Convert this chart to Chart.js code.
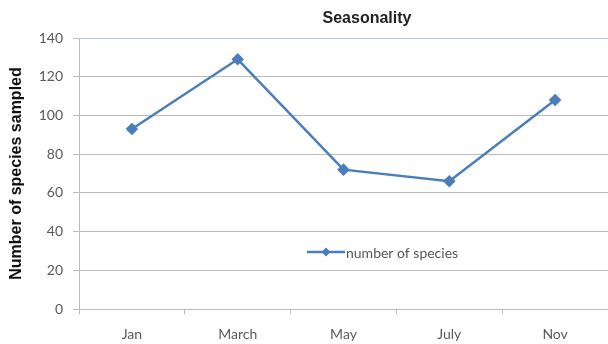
<!DOCTYPE html>
<html lang="en">
<head>
    <meta charset="UTF-8">
    <title>Seasonality</title>
    <script src="https://cdn.jsdelivr.net/npm/chart.js"></script>
    <style>
        body { margin: 0; background: #fff; }
        #wrap { width: 608px; height: 344px; }
    </style>
</head>
<body>
    <div id="wrap"><canvas id="myChart"></canvas></div>

    <script>
    const months = ['Jan', 'March', 'May', 'July', 'Nov'];
    const speciesCount = [93, 129, 72, 66, 108];
    const yTicks = [0, 20, 40, 60, 80, 100, 120, 140];

    const lineBlue = '#4a7ebb';
    const gridGrey = '#bcbcbc';
    const tickFont = { family: 'Lato', size: 14 };

    // title sits off-centre in the original, so draw it by hand
    const titlePlugin = {
        id: 'seasonTitle',
        afterDraw(chart) {
            const ctx = chart.ctx;
            ctx.save();
            ctx.font = 'bold 16px "Liberation Sans", Arial';
            ctx.fillStyle = '#222';
            ctx.textAlign = 'center';
            ctx.textBaseline = 'middle';
            ctx.fillText('Seasonality', 367, 19);
            ctx.restore();
        }
    };

    // legend lives inside the plot area
    const legendPlugin = {
        id: 'innerLegend',
        afterDraw(chart) {
            const ctx = chart.ctx;
            const y = 252;
            ctx.save();
            ctx.strokeStyle = lineBlue;
            ctx.lineWidth = 2.5;
            ctx.beginPath();
            ctx.moveTo(307, y);
            ctx.lineTo(345, y);
            ctx.stroke();
            ctx.fillStyle = lineBlue;
            ctx.beginPath();
            ctx.moveTo(326, y - 4.5);
            ctx.lineTo(330.5, y);
            ctx.lineTo(326, y + 4.5);
            ctx.lineTo(321.5, y);
            ctx.closePath();
            ctx.fill();
            ctx.font = '14px Lato';
            ctx.fillStyle = '#555';
            ctx.textAlign = 'left';
            ctx.textBaseline = 'middle';
            ctx.fillText('number of species', 346, y + 1);
            ctx.restore();
        }
    };

    const ctx = document.getElementById('myChart').getContext('2d');
    const myChart = new Chart(ctx, {
        type: 'line',
        data: {
            labels: months,
            datasets: [{
                label: 'number of species',
                data: speciesCount,
                borderColor: lineBlue,
                backgroundColor: lineBlue,
                borderWidth: 2.5,
                pointStyle: 'rectRot',
                pointRadius: 4.5,
                pointHoverRadius: 4.5,
                tension: 0
            }]
        },
        options: {
            responsive: true,
            maintainAspectRatio: false,
            animation: false,
            layout: { autoPadding: false, padding: { top: 38, left: 0, right: 0, bottom: 0 } },
            plugins: {
                legend: { display: false },
                title: { display: false },
                tooltip: { enabled: false }
            },
            scales: {
                x: {
                    offset: true,
                    grid: {
                        offset: true,
                        drawOnChartArea: false,
                        drawTicks: true,
                        tickLength: 5,
                        color: gridGrey
                    },
                    border: { display: true, color: gridGrey },
                    ticks: { font: tickFont, color: '#5a5a5a', padding: 12 },
                    afterFit(s) { s.height = 35; }
                },
                y: {
                    min: 0,
                    max: 140,
                    afterBuildTicks(s) { s.ticks = yTicks.map(v => ({ value: v })); },
                    grid: {
                        tickLength: 6,
                        color: c => c.tick && c.tick.value === 140 ? '#b4c6e0' : gridGrey
                    },
                    border: { display: true, color: gridGrey },
                    ticks: { font: tickFont, color: '#5a5a5a', padding: 10 },
                    title: {
                        display: true,
                        text: 'Number of species sampled',
                        font: { family: '"Liberation Sans", Arial', size: 16, weight: 'bold' },
                        color: '#111',
                        padding: { top: 7, bottom: 0 }
                    },
                    afterFit(s) { s.width = 79; }
                }
            }
        },
        plugins: [titlePlugin, legendPlugin]
    });
    </script>
</body>
</html>
